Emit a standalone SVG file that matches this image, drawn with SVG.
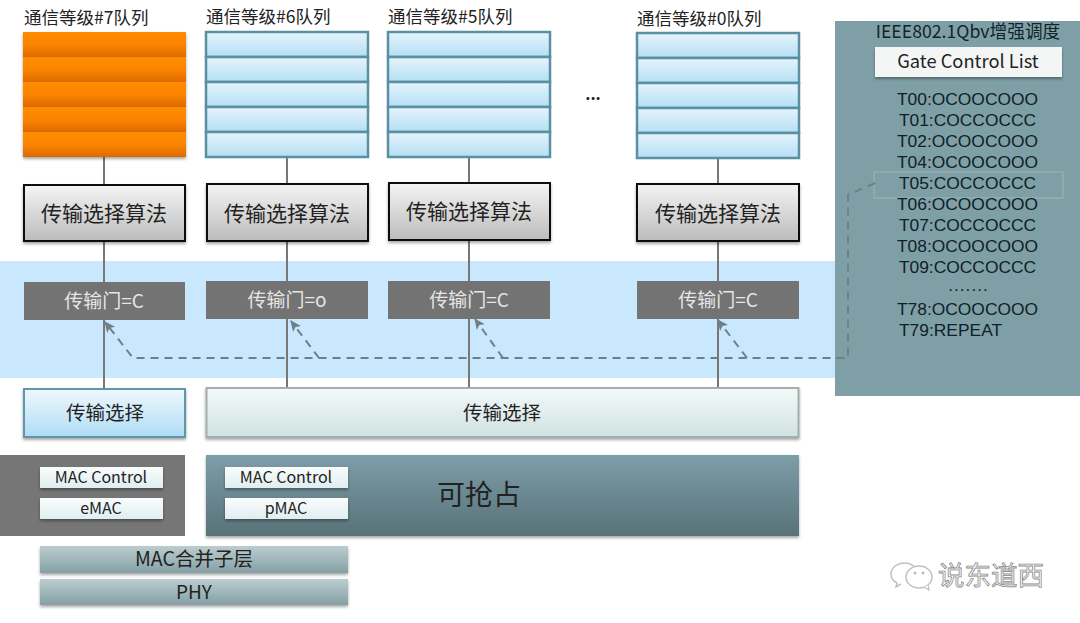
<svg xmlns="http://www.w3.org/2000/svg" width="1080" height="623" viewBox="0 0 1080 623">
<style>
text{font-family:"Noto Sans CJK SC","Noto Sans",sans-serif;fill:#222}
.m{text-anchor:middle}
.t{font-size:17.500px}
.alg{font-size:21px}
.gt{font-size:19px;fill:#e6e6e6}
.sel{font-size:19.500px}
.mac{font-size:16px}
.gcl{font-family:"Liberation Sans",Arial,sans-serif;font-size:17.4px;fill:#0f2126}
.v{stroke:#777;stroke-width:2;fill:none}
.d{stroke:#6f7f88;stroke-width:2;stroke-dasharray:8 6;fill:none}
.o{fill:url(#og);filter:url(#sh)}
.q{fill:url(#bl);stroke:#5a90a2;stroke-width:2.500}
.a{fill:url(#gr);stroke:#111;stroke-width:2;filter:url(#sh)}
.g{fill:#737373}
.w{fill:url(#wh);filter:url(#sh)}
.l{fill:url(#la);filter:url(#sh)}
</style>
<defs>
<linearGradient id="og" x1="0" y1="0" x2="0" y2="1"><stop offset="0" stop-color="#ff8c00"/><stop offset=".5" stop-color="#fb8400"/><stop offset="1" stop-color="#dc6a00"/></linearGradient>
<linearGradient id="bl" x1="0" y1="0" x2="0" y2="1"><stop offset="0" stop-color="#e6f4fb"/><stop offset="1" stop-color="#b4dff5"/></linearGradient>
<linearGradient id="gr" x1="0" y1="0" x2="0" y2="1"><stop offset="0" stop-color="#f4f4f4"/><stop offset="1" stop-color="#bcbcbc"/></linearGradient>
<linearGradient id="s1" x1="0" y1="0" x2="0" y2="1"><stop offset="0" stop-color="#f0f8fc"/><stop offset="1" stop-color="#aedcf6"/></linearGradient>
<linearGradient id="s2" x1="0" y1="0" x2="0" y2="1"><stop offset="0" stop-color="#f4f9f9"/><stop offset="1" stop-color="#cfe2e1"/></linearGradient>
<linearGradient id="te" x1="0" y1="0" x2="0" y2="1"><stop offset="0" stop-color="#7d9ea8"/><stop offset="1" stop-color="#587279"/></linearGradient>
<linearGradient id="wh" x1="0" y1="0" x2="0" y2="1"><stop offset="0" stop-color="#fafcfc"/><stop offset="1" stop-color="#dfeef0"/></linearGradient>
<linearGradient id="la" x1="0" y1="0" x2="0" y2="1"><stop offset="0" stop-color="#bccdd0"/><stop offset="1" stop-color="#84a0a4"/></linearGradient>
<filter id="sh" x="-5%" y="-10%" width="110%" height="130%"><feDropShadow dx="0" dy="2" stdDeviation="1.500" flood-color="#000" flood-opacity=".35"/></filter>
<marker id="ah" markerWidth="12" markerHeight="12" refX="10" refY="5" orient="auto" markerUnits="userSpaceOnUse"><path d="M0 0L11 5L0 10L2.500 5Z" fill="#6f7f88"/></marker>
</defs>
<rect width="1080" height="623" fill="#fff"/>
<rect id="band" x="0" y="261" width="836" height="117" fill="#c9e8fd"/>
<g id="gcl-panel">
<rect x="835" y="21" width="245" height="375" fill="#7f9fa6"/>
<rect x="874" y="172" width="189" height="26" fill="none" stroke="#9db6bb" stroke-width="1"/>
</g>
<g id="connectors">
<path class="v" d="M104 157V185M104 241V282M104 320V389"/>
<path class="v" d="M287 157V184M287 241V281M287 319V388"/>
<path class="v" d="M469 157V183M469 241V281M469 319V388"/>
<path class="v" d="M718 157V184M718 241V281M718 319V388"/>
<path class="d" d="M875 183L848 195V358H133L105 322" marker-end="url(#ah)"/>
<path class="d" d="M319 358L291 321" marker-end="url(#ah)"/>
<path class="d" d="M503 358L475 319" marker-end="url(#ah)"/>
<path class="d" d="M747 358L718 320" marker-end="url(#ah)"/>
</g>
<g id="queue7">
<text class="t" x="24" y="24">通信等级#7队列</text>
<rect class="o" x="23" y="32" width="163" height="25"/><rect class="o" x="23" y="57" width="163" height="25"/><rect class="o" x="23" y="82" width="163" height="25"/><rect class="o" x="23" y="107" width="163" height="25"/><rect class="o" x="23" y="132" width="163" height="25"/>
</g>
<g id="queue6">
<text class="t" x="206" y="23">通信等级#6队列</text>
<rect class="q" x="206" y="32" width="162" height="25"/><rect class="q" x="206" y="57" width="162" height="25"/><rect class="q" x="206" y="82" width="162" height="25"/><rect class="q" x="206" y="107" width="162" height="25"/><rect class="q" x="206" y="132" width="162" height="25"/>
</g>
<g id="queue5">
<text class="t" x="388" y="23">通信等级#5队列</text>
<rect class="q" x="388" y="32" width="162" height="25"/><rect class="q" x="388" y="57" width="162" height="25"/><rect class="q" x="388" y="82" width="162" height="25"/><rect class="q" x="388" y="107" width="162" height="25"/><rect class="q" x="388" y="132" width="162" height="25"/>
</g>
<g id="queue0">
<text class="t" x="637" y="25">通信等级#0队列</text>
<rect class="q" x="637" y="33" width="162" height="25"/><rect class="q" x="637" y="58" width="162" height="25"/><rect class="q" x="637" y="83" width="162" height="25"/><rect class="q" x="637" y="108" width="162" height="25"/><rect class="q" x="637" y="133" width="162" height="25"/>
</g>
<g id="ellipsis"><text x="593" y="100" class="m" style="font-size:16px;font-weight:bold">...</text></g>
<g id="alg7"><rect class="a" x="24" y="185" width="161" height="56"/><text class="alg m" x="104" y="221">传输选择算法</text></g>
<g id="alg6"><rect class="a" x="207" y="184" width="161" height="57"/><text class="alg m" x="287" y="221">传输选择算法</text></g>
<g id="alg5"><rect class="a" x="389" y="183" width="161" height="57"/><text class="alg m" x="469" y="219">传输选择算法</text></g>
<g id="alg0"><rect class="a" x="637" y="184" width="162" height="57"/><text class="alg m" x="718" y="221">传输选择算法</text></g>
<g id="gate7"><rect class="g" x="24" y="282" width="161" height="38"/><text class="gt m" x="104" y="308">传输门=C</text></g>
<g id="gate6"><rect class="g" x="206" y="281" width="162" height="38"/><text class="gt m" x="287" y="307">传输门=o</text></g>
<g id="gate5"><rect class="g" x="388" y="281" width="162" height="38"/><text class="gt m" x="469" y="307">传输门=C</text></g>
<g id="gate0"><rect class="g" x="637" y="281" width="162" height="38"/><text class="gt m" x="718" y="307">传输门=C</text></g>
<g id="select1"><rect x="24" y="389" width="161" height="48" fill="url(#s1)" stroke="#5f97a8" stroke-width="2" filter="url(#sh)"/><text class="sel m" x="105" y="420">传输选择</text></g>
<g id="select2"><rect x="206.500" y="388" width="592" height="49" fill="url(#s2)" stroke="#a4aeac" stroke-width="2" filter="url(#sh)"/><text class="sel m" x="502" y="420">传输选择</text></g>
<g id="express">
<rect x="0" y="455" width="185" height="81" fill="#767676"/>
<rect class="w" x="40" y="467" width="123" height="21"/><text class="mac m" x="101" y="483">MAC Control</text>
<rect class="w" x="40" y="498" width="123" height="21"/><text class="mac m" x="101" y="514">eMAC</text>
</g>
<g id="preempt">
<rect x="206" y="455" width="593" height="81" fill="url(#te)" filter="url(#sh)"/>
<rect class="w" x="225" y="467" width="123" height="21"/><text class="mac m" x="286" y="483">MAC Control</text>
<rect class="w" x="225" y="498" width="123" height="21"/><text class="mac m" x="286" y="514">pMAC</text>
<text class="m" x="479" y="505" style="font-size:28px">可抢占</text>
</g>
<g id="merge"><rect class="l" x="40" y="546" width="308" height="27"/><text class="m" x="194" y="566" style="font-size:19.500px">MAC合并子层</text></g>
<g id="phy"><rect class="l" x="40" y="579" width="308" height="26"/><text class="m" x="194" y="599" style="font-size:19px">PHY</text></g>
<g id="gcl">
<text class="m" x="968" y="38" style="font-size:17.700px;fill:#10242a">IEEE802.1Qbv增强调度</text>
<rect x="875" y="47" width="187" height="30" fill="#f4f6f6" filter="url(#sh)"/>
<text class="m" x="968" y="68" style="font-size:18.300px">Gate Control List</text>
<text class="gcl m" x="967.500" y="105">T00:OCOOCOOO</text>
<text class="gcl m" x="967.500" y="126">T01:COCCOCCC</text>
<text class="gcl m" x="967.500" y="147">T02:OCOOCOOO</text>
<text class="gcl m" x="967.500" y="168">T04:OCOOCOOO</text>
<text class="gcl m" x="967.500" y="189">T05:COCCOCCC</text>
<text class="gcl m" x="967.500" y="210">T06:OCOOCOOO</text>
<text class="gcl m" x="967.500" y="231">T07:COCCOCCC</text>
<text class="gcl m" x="967.500" y="252">T08:OCOOCOOO</text>
<text class="gcl m" x="967.500" y="273">T09:COCCOCCC</text>
<text class="gcl m" x="968" y="295">·······</text>
<text class="gcl m" x="967.500" y="315">T78:OCOOCOOO</text>
<text class="gcl" x="899" y="336">T79:REPEAT</text>
</g>
<g id="watermark">
<path d="M905 563c-8 0-14 5-14 11 0 4 2 7 6 9l-1 4 5-3M914 566c-3-2-6-3-9-3" fill="none" stroke="#c0c0c0" stroke-width="1.500"/>
<ellipse cx="919" cy="577" rx="13" ry="11" fill="#fff" stroke="#c0c0c0" stroke-width="1.500"/>
<path d="M924 587l5 3-1-5" fill="#fff" stroke="#c0c0c0" stroke-width="1.200"/>
<circle cx="915" cy="573" r="1.500" fill="#bbb"/><circle cx="923" cy="573" r="1.500" fill="#bbb"/>
<text x="938" y="585" style="font-size:26.500px;fill:#fff;stroke:#8a8a8a;stroke-width:.8px">说东道西</text>
</g>
</svg>
